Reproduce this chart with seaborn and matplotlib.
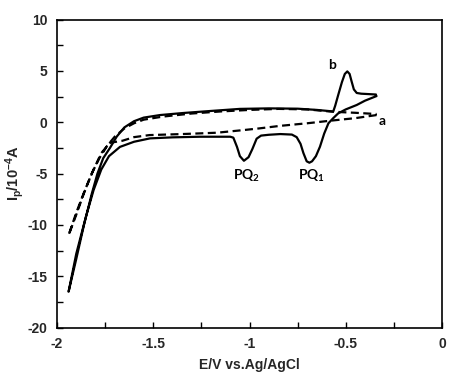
import numpy as np
import pandas as pd
import seaborn as sns
import matplotlib.pyplot as plt

sns.set_style('ticks')
plt.rcParams['font.family'] = ['Liberation Sans', 'DejaVu Sans']
plt.rcParams['mathtext.default'] = 'regular'

# curve b (solid), scan starts at the anodic end and goes negative, then back
b_E = [-0.34, -0.40, -0.443, -0.50, -0.539, -0.565, -0.59, -0.612, -0.634, -0.655,
       -0.675, -0.689, -0.703, -0.72, -0.735, -0.755, -0.78, -0.84, -0.90, -0.94,
       -0.963, -0.985, -1.005, -1.029, -1.05, -1.065, -1.084, -1.10, -1.257, -1.40,
       -1.517, -1.60, -1.673, -1.73, -1.77, -1.81, -1.85, -1.90, -1.94,
       -1.90, -1.86, -1.82, -1.79, -1.76, -1.725, -1.69, -1.65, -1.60, -1.55,
       -1.465, -1.344, -1.20, -1.05, -0.90, -0.75, -0.65, -0.565, -0.555, -0.54,
       -0.52, -0.505, -0.492, -0.48, -0.47, -0.458, -0.443, -0.42, -0.343]
b_I = [2.55, 2.1, 1.68, 1.25, 0.87, 0.4, -0.1, -1.1, -2.38, -3.3,
       -3.8, -3.94, -3.8, -3.0, -2.1, -1.45, -1.2, -1.15, -1.22, -1.3,
       -1.6, -2.6, -3.4, -3.75, -3.3, -2.4, -1.5, -1.41, -1.41, -1.47,
       -1.57, -1.9, -2.4, -3.3, -4.6, -6.6, -9.2, -12.8, -16.5,
       -13.3, -10.0, -7.0, -5.0, -3.5, -2.5, -1.4, -0.5, 0.1, 0.45,
       0.7, 0.9, 1.1, 1.3, 1.35, 1.32, 1.2, 1.05, 1.6, 2.6,
       3.9, 4.7, 4.95, 4.7, 4.0, 3.2, 2.85, 2.78, 2.7]

# curve a (dashed)
a_E = [-0.34, -0.45, -0.58, -0.70, -0.84, -0.95, -1.03, -1.17, -1.35, -1.52,
       -1.60, -1.66, -1.725, -1.77, -1.81, -1.855, -1.90, -1.94,
       -1.90, -1.86, -1.82, -1.78, -1.74, -1.70, -1.65, -1.60, -1.55, -1.45,
       -1.30, -1.15, -1.0, -0.85, -0.70, -0.565, -0.45, -0.34]
a_I = [0.7, 0.4, 0.15, -0.1, -0.35, -0.6, -0.76, -1.02, -1.15, -1.25,
       -1.45, -1.8, -2.0, -3.0, -4.6, -6.6, -8.8, -11.0,
       -9.0, -6.9, -5.0, -3.5, -2.3, -1.4, -0.6, -0.1, 0.25, 0.55,
       0.85, 1.05, 1.2, 1.3, 1.25, 1.02, 0.92, 0.8]

df_b = pd.DataFrame({'E': b_E, 'I': b_I})
df_a = pd.DataFrame({'E': a_E, 'I': a_I})

fig = plt.figure(figsize=(4.74, 3.88), dpi=100)
ax = fig.add_axes([0.1203, 0.1554, 0.8122, 0.7943])

sns.lineplot(data=df_b, x='E', y='I', sort=False, estimator=None, color='black',
             linewidth=1.6, ax=ax)
sns.lineplot(data=df_a, x='E', y='I', sort=False, estimator=None, color='black',
             linewidth=1.6, linestyle=(0, (3.6, 2.0)), ax=ax)

ax.set_xlim(-2, 0)
ax.set_ylim(-20, 10)
ax.set_xticks(np.arange(-2, 0.01, 0.5))
ax.set_xticks(np.arange(-2, 0.01, 0.25), minor=True)
ax.set_yticks(np.arange(-20, 10.1, 5))
ax.set_yticks(np.arange(-20, 10.1, 2.5), minor=True)
ax.set_xticklabels(['-2', '-1.5', '-1', '-0.5', '0'])
ax.set_yticklabels(['-20', '-15', '-10', '-5', '0', '5', '10'])
ax.tick_params(which='both', direction='in', length=4, width=1, color='black')
ax.tick_params(which='major', labelsize=10, pad=7)
for lab in ax.get_xticklabels() + ax.get_yticklabels():
    lab.set_fontweight('bold')
for sp in ax.spines.values():
    sp.set_linewidth(1.2)
    sp.set_color('black')

ax.set_xlabel('E/V vs.Ag/AgCl', fontsize=10, fontweight='bold', labelpad=5)
ax.set_ylabel('I$_p$/10$^{-4}$A', fontsize=10.5, fontweight='bold', labelpad=1)

lab_font = dict(family=['Lato', 'DejaVu Sans'], fontweight='bold', fontsize=10,
                color='black', ha='center', va='center')
ax.text(-0.573, 5.55, 'b', **lab_font)
ax.text(-0.31, 0.1, 'a', **lab_font)
ax.text(-1.015, -5.2, 'PQ$_2$', **lab_font)
ax.text(-0.677, -5.2, 'PQ$_1$', **lab_font)

fig.savefig('out.png', dpi=100)
